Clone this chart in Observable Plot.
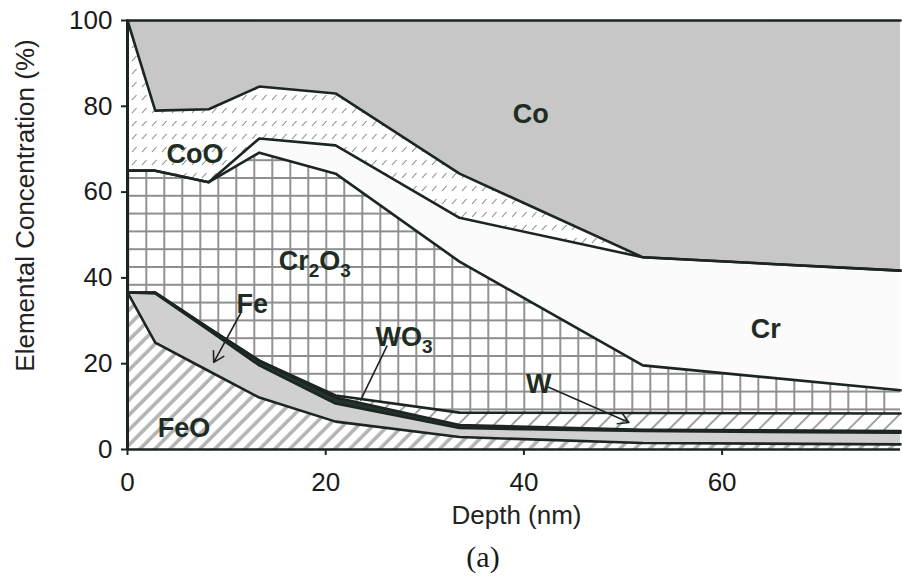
<!DOCTYPE html>
<html>
<head>
<meta charset="utf-8">
<script src="https://cdn.jsdelivr.net/npm/d3@7"></script>
<script src="https://cdn.jsdelivr.net/npm/@observablehq/plot@0.6"></script>
<style>
  body { margin: 0; background: #fff; }
  #chart svg { display: block; }
  .caption {
    width: 902px; height: 38px; line-height: 34px;
    font-family: "Liberation Serif", "DejaVu Serif", serif; font-size: 30px;
    text-align: center; color: #1a1a1a; position: relative; left: 32px;
  }
</style>
</head>
<body>
<div id="chart"></div>
<div class="caption">(a)</div>
<script>
// Depth profile of the oxide layer: concentration of each phase (%) vs depth (nm)
const depth = [0, 2.8, 8.2, 13.3, 21, 33.5, 52, 78];
const FeO   = [36.6, 24.9, 18.3, 12.1, 6.5, 2.9, 1.5, 1.2];
const Fe    = [0, 11.5, 9.5, 7.5, 4.2, 2.1, 2.8, 2.7];
const WO3   = [0, 0.2, 0.5, 1.1, 1.4, 0.7, 0.3, 0.4];
const W     = [0, 0, 0, 0, 0.5, 2.9, 3.9, 4.1];
const Cr2O3 = [28.4, 28.4, 34.0, 48.5, 51.7, 35.2, 11.1, 5.4];
const Cr    = [0, 0, 0, 3.3, 6.6, 10.2, 25.2, 27.9];
const CoO   = [35, 14, 17, 12.1, 12.1, 10.3, 0, 0];
const Co    = [0, 21, 20.7, 15.4, 17, 35.7, 55.2, 58.3];

// stacking order, bottom to top
const phases = ["FeO", "Fe", "WO3", "W", "Cr2O3", "Cr", "CoO", "Co"];
const series = {FeO, Fe, WO3, W, Cr2O3, Cr, CoO, Co};

const xTicks = [0, 20, 40, 60];
const yTicks = [0, 20, 40, 60, 80, 100];

// in-plot phase labels
const labelNames = ["Co", "CoO", "Cr2O3", "Cr", "Fe", "WO3", "W", "FeO"];
const labelDepth = [40.7, 6.8, 18.9, 64.4, 12.6, 27.9, 41.5, 5.7];
const labelConc  = [78.1, 68.9, 43.8, 28.1, 33.8, 26.1, 15.2, 4.9];

// pointer arrows (Fe, W) and the WO3 leader line
const arrowFrom = {depth: [11.4, 42.5], conc: [31.7, 14.5]};
const arrowTo   = {depth: [8.7, 50.6],  conc: [20.3, 6.3]};
const leaderFrom = {depth: [26.2], conc: [24.2]};
const leaderTo   = {depth: [23.5], conc: [11.4]};

const fills = {
  FeO: "url(#hatch-feo)",
  Fe: "#d0d0d0",
  WO3: "#25332b",
  W: "url(#hatch-w)",
  Cr2O3: "url(#grid-cr2o3)",
  Cr: "#fbfbfb",
  CoO: "url(#dash-coo)",
  Co: "#c7c7c7"
};

const rows = phases.flatMap(p => depth.map((d, i) => ({depth: d, phase: p, value: series[p][i]})));
const labels = labelNames.map((name, i) => ({name, depth: labelDepth[i], conc: labelConc[i]}));
const arrows = arrowFrom.depth.map((_, i) => ({
  x1: arrowFrom.depth[i], y1: arrowFrom.conc[i], x2: arrowTo.depth[i], y2: arrowTo.conc[i]
}));
const leaders = leaderFrom.depth.map((_, i) => ({
  x1: leaderFrom.depth[i], y1: leaderFrom.conc[i], x2: leaderTo.depth[i], y2: leaderTo.conc[i]
}));

const ink = "#1c2620";
const labelInk = "#1f2c24";

const svg = Plot.plot({
  width: 902,
  height: 540,
  marginLeft: 127,
  marginRight: 2,
  marginTop: 20,
  marginBottom: 91,
  x: {domain: [0, 78]},
  y: {domain: [0, 100]},
  color: {type: "identity"},
  style: {fontFamily: "'Liberation Sans', Arial, sans-serif", fontSize: "26px", color: "#1a1a1a", background: "#fff"},
  marks: [
    Plot.areaY(rows, Plot.stackY({
      x: "depth", y: "value", z: "phase", order: phases,
      fill: d => fills[d.phase], curve: "linear"
    })),
    Plot.lineY(rows, Plot.stackY2({
      x: "depth", y: "value", z: "phase", order: phases,
      stroke: ink, strokeWidth: 2.6, strokeLinejoin: "round", curve: "linear"
    })),
    Plot.ruleY([0], {stroke: ink, strokeWidth: 2.5}),
    Plot.ruleX([0], {stroke: ink, strokeWidth: 3}),
    Plot.axisY({ticks: yTicks, tickSize: 6, tickPadding: 9, strokeWidth: 2, stroke: ink, label: null, fontSize: 26}),
    Plot.axisX({ticks: xTicks, tickSize: 6, tickPadding: 17, strokeWidth: 2, stroke: ink, label: null, fontSize: 26}),
    Plot.text(["Elemental Concentration (%)"], {
      frameAnchor: "left", textAnchor: "middle", lineAnchor: "middle",
      rotate: -90, dx: -102, dy: -29.5, fontSize: 26, fill: "#222"
    }),
    Plot.text(["Depth (nm)"], {
      frameAnchor: "bottom", textAnchor: "middle", lineAnchor: "middle",
      dx: 2.5, dy: 66, fontSize: 26, fill: "#222"
    }),
    Plot.link(leaders, {x1: "x1", y1: "y1", x2: "x2", y2: "y2", stroke: ink, strokeWidth: 1.6}),
    Plot.arrow(arrows, {x1: "x1", y1: "y1", x2: "x2", y2: "y2", stroke: ink, strokeWidth: 1.6, headLength: 11}),
    Plot.text(labels, {x: "depth", y: "conc", text: "name", fontSize: 27, fontWeight: "bold", fill: labelInk})
  ]
});

// fill patterns for the hatched / gridded phases
const defs = d3.create("svg:defs");

const feo = defs.append("pattern").attr("id", "hatch-feo").attr("patternUnits", "userSpaceOnUse")
  .attr("width", 10.6).attr("height", 10.6).attr("patternTransform", "rotate(45)");
feo.append("rect").attr("width", 10.6).attr("height", 10.6).attr("fill", "#fff");
feo.append("line").attr("x1", 3).attr("x2", 3).attr("y1", 0).attr("y2", 10.6)
  .attr("stroke", "#b4b4b4").attr("stroke-width", 3.6);

const w = defs.append("pattern").attr("id", "hatch-w").attr("patternUnits", "userSpaceOnUse")
  .attr("width", 12.7).attr("height", 12.7).attr("patternTransform", "rotate(45)");
w.append("rect").attr("width", 12.7).attr("height", 12.7).attr("fill", "#fff");
w.append("line").attr("x1", 2).attr("x2", 2).attr("y1", 0).attr("y2", 12.7)
  .attr("stroke", "#7a7a7a").attr("stroke-width", 1.4);

const grid = defs.append("pattern").attr("id", "grid-cr2o3").attr("patternUnits", "userSpaceOnUse")
  .attr("x", 1.3).attr("y", -1).attr("width", 18).attr("height", 17.8);
grid.append("rect").attr("width", 18).attr("height", 17.8).attr("fill", "#fff");
grid.append("path").attr("d", "M1,0V17.8M0,1H18").attr("stroke", "#8e8e8e")
  .attr("stroke-width", 1.9).attr("fill", "none");

const coo = defs.append("pattern").attr("id", "dash-coo").attr("patternUnits", "userSpaceOnUse")
  .attr("width", 10).attr("height", 13);
coo.append("rect").attr("width", 10).attr("height", 13).attr("fill", "#fff");
coo.append("line").attr("x1", 2).attr("y1", 9).attr("x2", 6.5).attr("y2", 4)
  .attr("stroke", "#8a8a8a").attr("stroke-width", 1.1);

svg.prepend(defs.node());

// chemical formulas: set the digits as subscripts
const NS = "http://www.w3.org/2000/svg";
svg.querySelectorAll("text").forEach(el => {
  if (!/[A-Za-z]\d/.test(el.textContent)) return;
  const parts = el.textContent.split(/(\d+)/).filter(s => s);
  el.textContent = "";
  let lowered = false;
  for (const p of parts) {
    const t = document.createElementNS(NS, "tspan");
    t.textContent = p;
    if (/^\d+$/.test(p)) { t.setAttribute("dy", 7); t.setAttribute("font-size", "19px"); lowered = true; }
    else if (lowered) { t.setAttribute("dy", -7); lowered = false; }
    el.appendChild(t);
  }
});

document.getElementById("chart").appendChild(svg);
</script>
</body>
</html>
